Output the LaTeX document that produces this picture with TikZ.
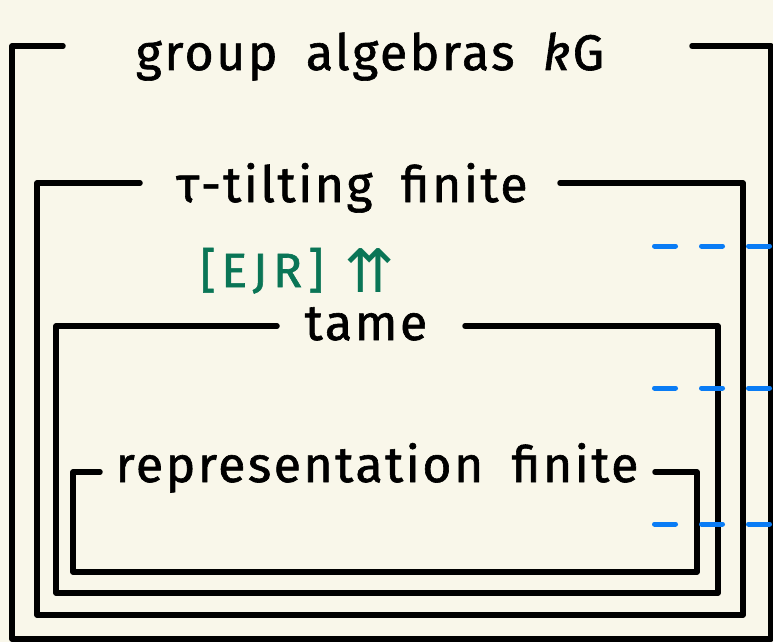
\documentclass[tikz,border=0pt]{standalone}
\usepackage{fontspec}
\setmainfont[LetterSpace=5,WordSpace=1.8,FakeBold=1.2]{Fira Sans}
\newfontfamily\citefont[LetterSpace=12,FakeBold=1.2]{Fira Sans}
\newfontfamily\arrowfont{DejaVu Sans}
\usetikzlibrary{positioning}
\definecolor{paper}{HTML}{F9F7EA}
\definecolor{ejrgreen}{HTML}{0A7556}
\definecolor{dashblue}{HTML}{0A7CF5}

\begin{document}
\begin{tikzpicture}[x=1pt,y=-1pt,
 frame/.style={draw=black,line width=5.5pt,line cap=round,line join=round},
 title/.style={anchor=base,inner sep=0pt,font=\fontsize{50}{54}\selectfont},
 cite/.style={anchor=base,inner sep=0pt,text=ejrgreen,
 font=\citefont\fontsize{48}{50}\selectfont},
 hint/.style={draw=dashblue,line width=5pt,line cap=round,
 dash pattern=on 21pt off 26pt}]
\fill[paper] (0,0) rectangle (773,642);
\clip (0,0) rectangle (773,642);
% titles
\node[title] (group) at (370,70) {group algebras \textit{k}G};
\node[title] (tilting) at (352,202) {τ-tilting finite};
\node[title] (tame) at (366,340) {tame};
\node[title] (repfin) at (377,482) {representation finite};
\node[cite] (ejr) at (262,287) {[EJR]};
\node[cite,font=\arrowfont\fontsize{60}{62}\selectfont,anchor=base]
 (up) at (370,292) {⇈};
% nested frames
\draw[frame] (63,46) -- (12,46) -- (12,639) -- (771,639) -- (771,46) -- (692,46);
\draw[frame] (140,183) -- (37,183) -- (37,615) -- (743,615) -- (743,183) -- (560,183);
\draw[frame] (277,326) -- (56,326) -- (56,593) -- (718,593) -- (718,326) -- (465,326);
\draw[frame] (100,472) -- (73,472) -- (73,572) -- (697,572) -- (697,472) -- (655,472);
% dashed marks on the right
\foreach \y in {246,388,524}
 \draw[hint] (654.5,\y) -- (790,\y);
\end{tikzpicture}
\end{document}
